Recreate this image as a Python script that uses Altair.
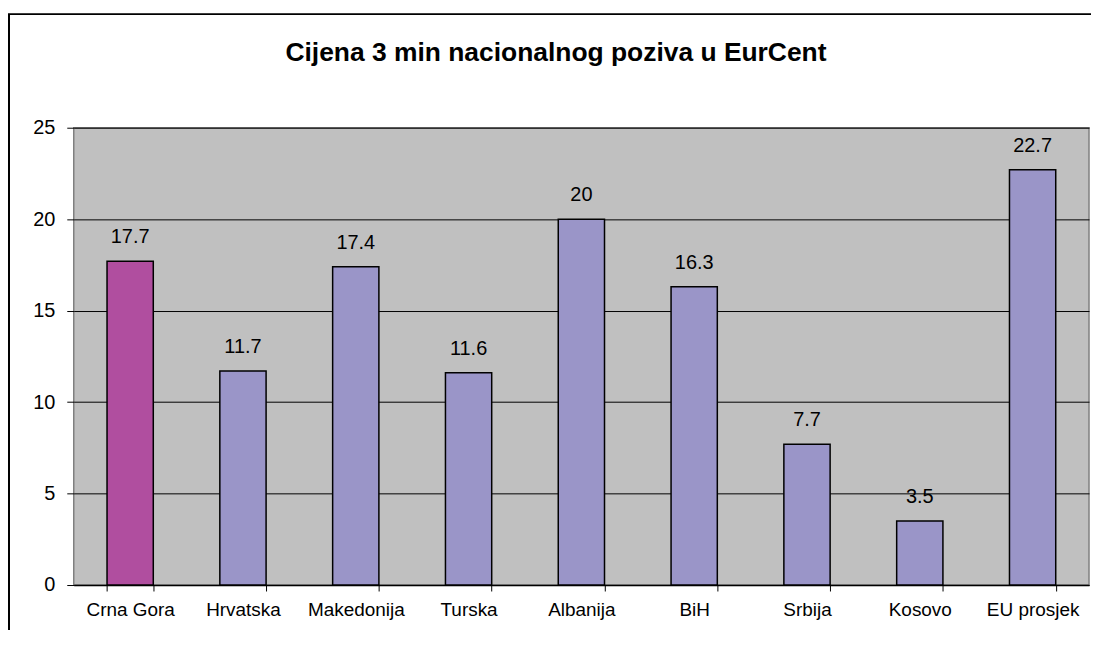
import altair as alt
import pandas as pd

categories = ["Crna Gora", "Hrvatska", "Makedonija", "Turska", "Albanija", "BiH", "Srbija", "Kosovo", "EU prosjek"]
values = [17.7, 11.7, 17.4, 11.6, 20, 16.3, 7.7, 3.5, 22.7]
labels = ["17.7", "11.7", "17.4", "11.6", "20", "16.3", "7.7", "3.5", "22.7"]
highlight = ["Crna Gora"]
title_text = "Cijena 3 min nacionalnog poziva u EurCent"

df = pd.DataFrame({
    "zemlja": categories,
    "cijena": values,
    "oznaka": labels,
    "grupa": ["hl" if c in highlight else "ostalo" for c in categories],
})

x = alt.X("zemlja:N", sort=categories, title=None,
          scale=alt.Scale(paddingInner=0.59, paddingOuter=0.295),
          axis=alt.Axis(tickBand="extent", labelAngle=0, labelFont="Arial", labelFontSize=19,
                        labelColor="black", tickColor="black", tickSize=6, domainColor="black",
                        domainWidth=1.5, labelPadding=10, grid=False))
y = alt.Y("cijena:Q", title=None,
          scale=alt.Scale(domain=[0, 25], nice=False),
          axis=alt.Axis(values=[0, 5, 10, 15, 20, 25], labelFont="Arial", labelFontSize=20,
                        labelColor="black", tickColor="black", tickSize=7, domain=False,
                        gridColor="black", gridWidth=1, labelPadding=12))

bars = alt.Chart(df).mark_bar(stroke="black", strokeWidth=1.5).encode(
    x=x, y=y,
    color=alt.Color("grupa:N", scale=alt.Scale(domain=["hl", "ostalo"], range=["#B04E9F", "#9A95C8"]), legend=None),
)

text = alt.Chart(df).mark_text(baseline="alphabetic", dy=-18, font="Arial", fontSize=20, color="black").encode(
    x=alt.X("zemlja:N", sort=categories), y="cijena:Q", text="oznaka:N")

deco = pd.DataFrame({"t": [title_text]})
border = alt.Chart(deco).mark_rect(
    fill=None, stroke="black", strokeWidth=2, clip=False
).encode(x=alt.value(-65), x2=alt.value(1045), y=alt.value(-114), y2=alt.value(540))

title = alt.Chart(deco).mark_text(
    font="Arial", fontSize=26.5, fontWeight="bold", color="black", baseline="alphabetic", align="center", clip=False
).encode(x=alt.value(484), y=alt.value(-67), text="t:N")

chart = alt.layer(border, bars, text, title).properties(
    width=1019, height=459,
    autosize=alt.AutoSizeParams(type="none"),
    padding={"left": 66, "top": 119, "right": 2, "bottom": 44},
).configure(background="white").configure_view(fill="#C0C0C0", stroke="#808080", strokeWidth=1.5)

chart.save("out.html", embed_options={"renderer": "svg", "actions": False})
